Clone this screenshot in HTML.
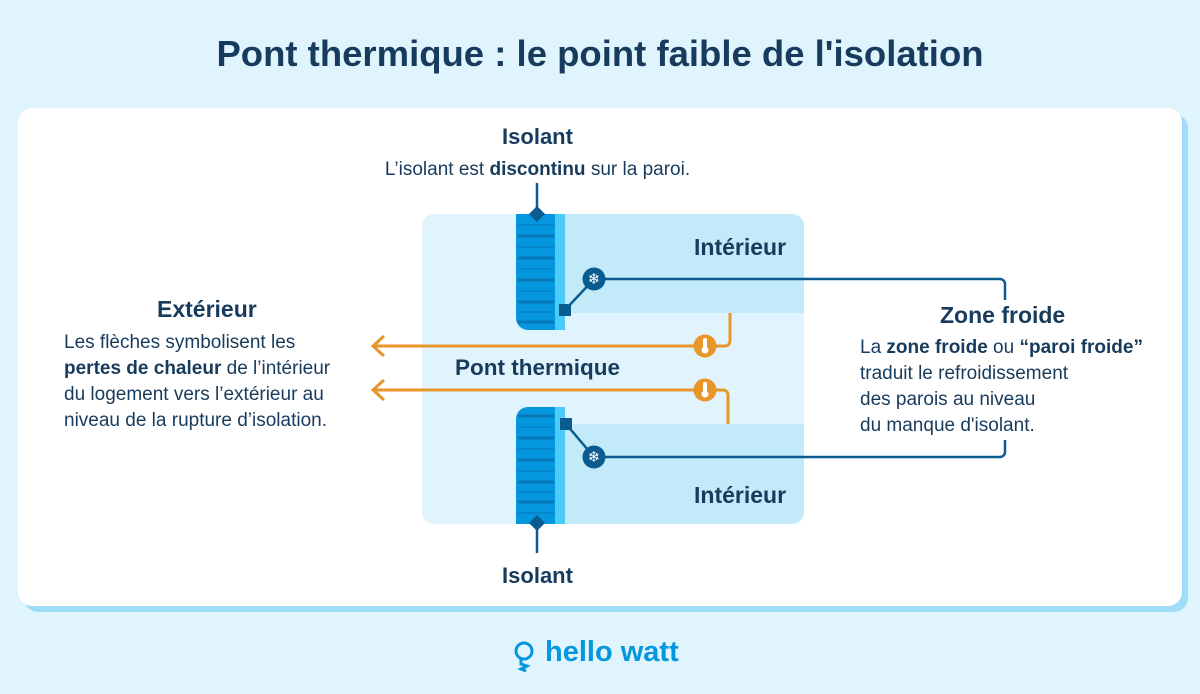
<!DOCTYPE html>
<html><head><meta charset="utf-8"><style>
body{margin:0;width:1200px;height:694px;background:#e0f4fd;font-family:"Liberation Sans",sans-serif;color:#173b5c;position:relative;overflow:hidden}
.t{position:absolute;white-space:nowrap}
</style></head><body>
<div class="t" style="left:0;width:1200px;text-align:center;top:33px;font-size:36.5px;font-weight:bold;">Pont thermique : le point faible de l'isolation</div>
<div style="position:absolute;left:24px;top:114px;width:1164px;height:498px;background:#9fdcf8;border-radius:14px"></div>
<div style="position:absolute;left:18px;top:108px;width:1164px;height:498px;background:#fff;border-radius:14px"></div>
<svg style="position:absolute;left:0;top:0" width="1200" height="694">
<rect x="422" y="214" width="382" height="310" rx="12" fill="#e1f4fd"/>
<path d="M565 214H792a12 12 0 0 1 12 12V313H565Z" fill="#c2eaf9"/>
<path d="M565 424H804V512a12 12 0 0 1-12 12H565Z" fill="#c2eaf9"/>
<g>
<path d="M516 214H565V330H528a12 12 0 0 1-12-12Z" fill="#0597dd"/>
<rect x="555" y="214" width="10" height="116" fill="#4ccbfb"/>
<g stroke="#0677b5" stroke-width="3"><line x1="518" y1="236" x2="554" y2="236"/><line x1="518" y1="258" x2="554" y2="258"/><line x1="518" y1="280" x2="554" y2="280"/><line x1="518" y1="302" x2="554" y2="302"/><line x1="518" y1="322" x2="554" y2="322"/></g>
<g stroke="#0677b5" stroke-width="1"><line x1="518" y1="225" x2="554" y2="225"/><line x1="518" y1="247" x2="554" y2="247"/><line x1="518" y1="269" x2="554" y2="269"/><line x1="518" y1="291" x2="554" y2="291"/><line x1="518" y1="312" x2="554" y2="312"/></g>
</g>
<g>
<path d="M528 407H565V524H516V419a12 12 0 0 1 12-12Z" fill="#0597dd"/>
<rect x="555" y="407" width="10" height="117" fill="#4ccbfb"/>
<g stroke="#0677b5" stroke-width="3"><line x1="518" y1="416" x2="554" y2="416"/><line x1="518" y1="438" x2="554" y2="438"/><line x1="518" y1="460" x2="554" y2="460"/><line x1="518" y1="482" x2="554" y2="482"/><line x1="518" y1="502" x2="554" y2="502"/></g>
<g stroke="#0677b5" stroke-width="1"><line x1="518" y1="427" x2="554" y2="427"/><line x1="518" y1="449" x2="554" y2="449"/><line x1="518" y1="471" x2="554" y2="471"/><line x1="518" y1="492" x2="554" y2="492"/><line x1="518" y1="513" x2="554" y2="513"/></g>
</g>
<g stroke="#0a5b8f" stroke-width="2.5" fill="none">
<line x1="537" y1="183" x2="537" y2="214"/><line x1="537" y1="524" x2="537" y2="553"/>
<path d="M565 310L594 279H1000a5 5 0 0 1 5 5V300"/>
<path d="M566 424L594 457H1000a5 5 0 0 0 5-5V440"/>
</g>
<g fill="#0a5b8f">
<path d="M537 206l8 8-8 8-8-8Z"/><path d="M537 515l8 8-8 8-8-8Z"/>
<rect x="559" y="304" width="12" height="12"/><rect x="560" y="418" width="12" height="12"/>
<circle cx="594" cy="279" r="11.5"/><circle cx="594" cy="457" r="11.5"/>
</g>
<text x="594" y="284" font-size="15" fill="#fff" text-anchor="middle" font-family="DejaVu Sans">❄</text>
<text x="594" y="462" font-size="15" fill="#fff" text-anchor="middle" font-family="DejaVu Sans">❄</text>
<g stroke="#e8962a" stroke-width="3" fill="none">
<path d="M374 346H725a5 5 0 0 0 5-5V313"/>
<path d="M374 390H723a5 5 0 0 1 5 5V424"/>
<path d="M384 336L373 346L384 356"/><path d="M384 380L373 390L384 400"/>
</g>
<g fill="#e8962a"><circle cx="705" cy="346" r="11.5"/><circle cx="705" cy="390" r="11.5"/></g>
<g fill="#fff"><rect x="703" y="338" width="4" height="10" rx="2"/><circle cx="705" cy="350" r="3.5"/><rect x="703" y="382" width="4" height="10" rx="2"/><circle cx="705" cy="394" r="3.5"/></g>
<g fill="none" stroke="#0597dd" stroke-width="3"><circle cx="524" cy="651" r="8"/><path d="M521 659v5l6 2-6 3 5 2"/></g>
</svg>
<div class="t" style="left:0;width:1075px;text-align:center;top:124px;font-size:22px;font-weight:bold">Isolant</div>
<div class="t" style="left:0;width:1075px;text-align:center;top:159px;font-size:19px">L’isolant est <b>discontinu</b> sur la paroi.</div>
<div class="t" style="left:694px;top:234px;font-size:23px;font-weight:bold">Intérieur</div>
<div class="t" style="left:694px;top:482px;font-size:23px;font-weight:bold">Intérieur</div>
<div class="t" style="left:455px;top:355px;font-size:22.5px;font-weight:bold">Pont thermique</div>
<div class="t" style="left:0;width:1075px;text-align:center;top:563px;font-size:22px;font-weight:bold">Isolant</div>
<div class="t" style="left:157px;top:296px;font-size:23px;font-weight:bold">Extérieur</div>
<div class="t" style="left:64px;top:330px;font-size:19px;line-height:26px">Les flèches symbolisent les<br><b>pertes de chaleur</b> de l’intérieur<br>du logement vers l’extérieur au<br>niveau de la rupture d’isolation.</div>
<div class="t" style="left:940px;top:302px;font-size:23px;font-weight:bold">Zone froide</div>
<div class="t" style="left:860px;top:335px;font-size:19px;line-height:26px">La <b>zone froide</b> ou <b>“paroi froide”</b><br>traduit le refroidissement<br>des parois au niveau<br>du manque d'isolant.</div>
<div class="t" style="left:545px;top:636px;font-size:29px;font-weight:bold;color:#0597dd">hello watt</div>
</body></html>
